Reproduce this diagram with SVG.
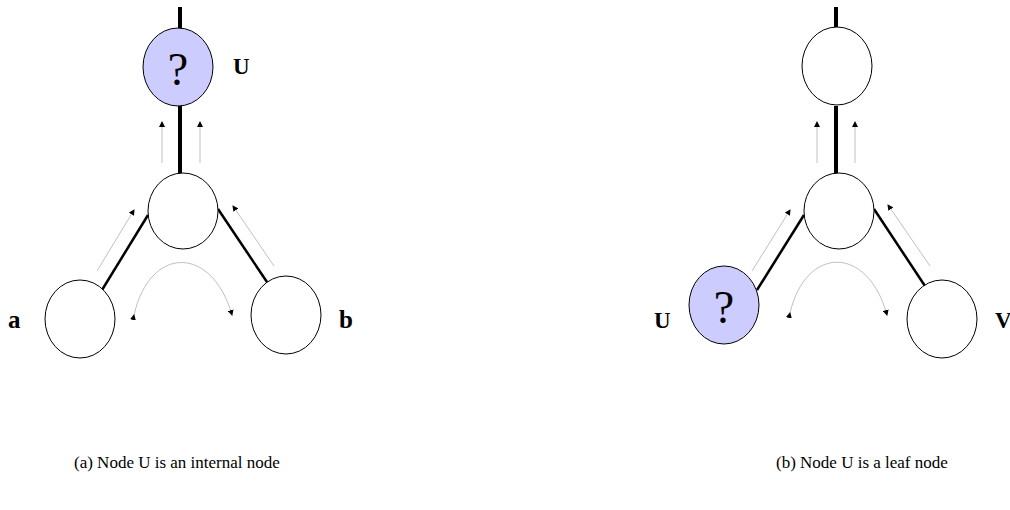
<svg xmlns="http://www.w3.org/2000/svg" width="1010" height="510" viewBox="0 0 1010 510">
<style>
.node{fill:#fff;stroke:#000;stroke-width:1}
.q{fill:#ccccff}
.edge{stroke:#000;stroke-width:2.5;fill:none}
.trunk{stroke:#000;stroke-width:4;fill:none}
.msg{stroke:#b0b0b0;stroke-width:0.8;fill:none;marker-end:url(#ah)}
.curve{stroke:#b0b0b0;stroke-width:0.8;fill:none;marker-start:url(#ahs);marker-end:url(#ah)}
.lbl{font-family:"Liberation Serif",serif;font-weight:bold;font-size:23px;fill:#000}
.qm{font-family:"Liberation Serif",serif;font-size:46px;fill:#000;text-anchor:middle}
.cap{font-family:"Liberation Serif",serif;font-size:17px;fill:#000}
</style>
<defs>
<marker id="ah" markerWidth="6" markerHeight="6" refX="5" refY="3" orient="auto" markerUnits="userSpaceOnUse"><path d="M0,0 L6,3 L0,6 z" fill="#000"/></marker>
<marker id="ahs" markerWidth="6" markerHeight="6" refX="1" refY="3" orient="auto-start-reverse" markerUnits="userSpaceOnUse"><path d="M0,0 L6,3 L0,6 z" fill="#000" transform="translate(6,6) rotate(180)"/></marker>
</defs>
<g id="connectors">
<line class="trunk" x1="180" y1="7" x2="180" y2="29"/>
<line class="trunk" x1="180" y1="106" x2="180" y2="173"/>
<line class="edge" x1="148" y1="215" x2="102" y2="290"/>
<line class="edge" x1="218" y1="209" x2="269" y2="285"/>
<line class="msg" x1="162" y1="163" x2="162" y2="122"/>
<line class="msg" x1="200" y1="163" x2="200" y2="122"/>
<line class="msg" x1="97" y1="271" x2="134" y2="210"/>
<line class="msg" x1="274" y1="266" x2="233" y2="206"/>
<path class="curve" d="M134,315 C150,245 212,245 232,315"/>
<line class="trunk" x1="836" y1="7" x2="836" y2="27"/>
<line class="trunk" x1="836" y1="106" x2="836" y2="173"/>
<line class="edge" x1="804" y1="215" x2="757" y2="290"/>
<line class="edge" x1="874" y1="209" x2="925" y2="286"/>
<line class="msg" x1="817" y1="163" x2="817" y2="122"/>
<line class="msg" x1="855" y1="163" x2="855" y2="122"/>
<line class="msg" x1="752" y1="271" x2="790" y2="210"/>
<line class="msg" x1="930" y1="266" x2="888" y2="205"/>
<path class="curve" d="M790,313 C806,245 868,245 887,315"/>
</g>
<g id="a-U"><ellipse class="node q" cx="178" cy="67" rx="35" ry="39"/><text class="qm" x="178" y="85">?</text><text class="lbl" x="233" y="74">U</text></g>
<g id="a-mid"><ellipse class="node" cx="183" cy="211" rx="35" ry="38"/></g>
<g id="a-a"><ellipse class="node" cx="80" cy="319" rx="35" ry="39"/><text class="lbl" x="8" y="328" style="font-size:25px">a</text></g>
<g id="a-b"><ellipse class="node" cx="286" cy="315" rx="35" ry="39"/><text class="lbl" x="339" y="328" style="font-size:25px">b</text></g>
<g id="b-top"><ellipse class="node" cx="837" cy="66" rx="35" ry="39"/></g>
<g id="b-mid"><ellipse class="node" cx="839" cy="211" rx="35" ry="38"/></g>
<g id="b-U"><ellipse class="node q" cx="724" cy="305" rx="35" ry="39"/><text class="qm" x="724" y="323">?</text><text class="lbl" x="654" y="328">U</text></g>
<g id="b-V"><ellipse class="node" cx="942" cy="319" rx="35" ry="39"/><text class="lbl" x="995" y="328">V</text></g>
<g id="captions">
<text class="cap" x="74" y="468">(a) Node U is an internal node</text>
<text class="cap" x="776" y="468">(b) Node U is a leaf node</text>
</g>
</svg>
